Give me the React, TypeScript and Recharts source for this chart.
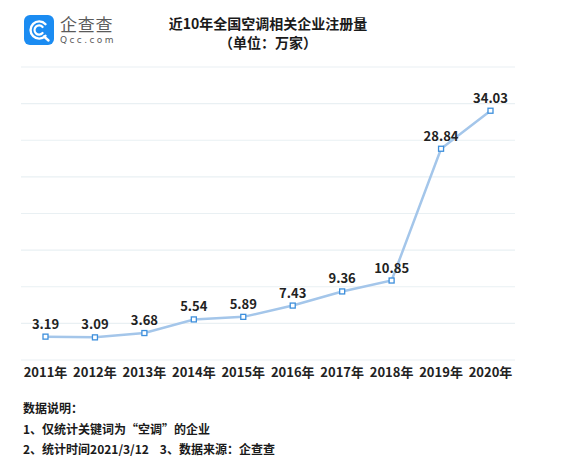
import { LineChart, Line, XAxis, YAxis, CartesianGrid, LabelList } from "recharts";

const years = ["2011年", "2012年", "2013年", "2014年", "2015年", "2016年", "2017年", "2018年", "2019年", "2020年"];
const registrations = [3.19, 3.09, 3.68, 5.54, 5.89, 7.43, 9.36, 10.85, 28.84, 34.03];
const yTicks = [0, 5, 10, 15, 20, 25, 30, 35, 40];

const notes = [
  "数据说明：",
  "1、仅统计关键词为“空调”的企业",
  "2、统计时间2021/3/12\u00a0\u00a0\u00a0\u00a03、数据来源：企查查",
];

const FONT = '"Noto Sans CJK SC", "Noto Sans", sans-serif';

const chartData = years.map((year, i) => ({ year, value: registrations[i] }));

// small hollow square marker
const SquareDot = (props: any) => {
  const { cx, cy, index } = props;
  if (cx == null || cy == null) return null;
  return (
    <rect
      key={`dot-${index}`}
      x={cx - 2.5}
      y={cy - 2.5}
      width={5}
      height={5}
      fill="#fff"
      stroke="#3d8fdc"
      strokeWidth={1.3}
    />
  );
};

function Logo() {
  return (
    <div style={{ position: "absolute", left: 24, top: 14, display: "flex", alignItems: "center" }}>
      <svg width={30} height={30} viewBox="0 0 30 30">
        <rect x={0} y={0} width={30} height={30} rx={6} fill="#1b8cf2" />
        <path
          d="M21.5 9.2 A8.6 8.6 0 1 0 21.5 20.8"
          fill="none"
          stroke="#fff"
          strokeWidth={2.4}
          strokeLinecap="round"
        />
        <path
          d="M18.6 12 A4.6 4.6 0 1 0 18.6 18"
          fill="none"
          stroke="#fff"
          strokeWidth={2.2}
          strokeLinecap="round"
        />
        <path d="M20 21.5 L24.5 25.5" stroke="#fff" strokeWidth={2.4} strokeLinecap="round" />
      </svg>
      <div style={{ marginLeft: 6, color: "#5a5a5a" }}>
        <div style={{ fontFamily: FONT, fontSize: 17, lineHeight: "19px", letterSpacing: 0.8 }}>企查查</div>
        <div
          style={{
            fontFamily: '"DejaVu Sans", sans-serif',
            fontSize: 9,
            lineHeight: "11px",
            marginTop: 2,
            letterSpacing: 2.4,
          }}
        >
          Qcc.com
        </div>
      </div>
    </div>
  );
}

export default function App() {
  return (
    <div
      style={{
        position: "absolute",
        left: 0,
        top: 0,
        width: 586,
        height: 467,
        background: "#fff",
        fontFamily: FONT,
        overflow: "hidden",
      }}
    >
      <Logo />
      <div
        style={{
          position: "absolute",
          left: 0,
          width: 536,
          top: 14,
          textAlign: "center",
          fontWeight: 700,
          fontSize: 14,
          lineHeight: "19px",
          color: "#1a1a1a",
        }}
      >
        <div>近10年全国空调相关企业注册量</div>
        <div>（单位：万家）</div>
      </div>

      <div style={{ position: "absolute", left: 0, top: 0 }}>
        <LineChart
          width={586}
          height={400}
          data={chartData}
          margin={{ top: 67, right: 71, left: 21, bottom: 10 }}
        >
          <CartesianGrid vertical={false} stroke="#e9f0f3" strokeWidth={1.2} />
          <XAxis
            dataKey="year"
            axisLine={false}
            tickLine={false}
            interval={0}
            padding={{ left: 24.5, right: 24.5 }}
            tick={{ fill: "#222", fontSize: 13, fontWeight: 700, fontFamily: FONT }}
          />
          <YAxis hide domain={[0, 40]} ticks={yTicks} />
          <Line
            type="linear"
            dataKey="value"
            stroke="#a4c6ea"
            strokeWidth={2.5}
            dot={<SquareDot />}
            activeDot={false}
            isAnimationActive={false}
          >
            <LabelList
              dataKey="value"
              position="top"
              offset={8}
              fill="#222"
              fontSize={13}
              fontWeight={700}
              fontFamily={FONT}
            />
          </Line>
        </LineChart>
      </div>

      <div style={{ position: "absolute", left: 23, top: 398, color: "#1a1a1a", fontWeight: 700, fontSize: 12 }}>
        {notes.map((line) => (
          <div key={line} style={{ lineHeight: "20.5px", whiteSpace: "pre" }}>
            {line}
          </div>
        ))}
      </div>
    </div>
  );
}
